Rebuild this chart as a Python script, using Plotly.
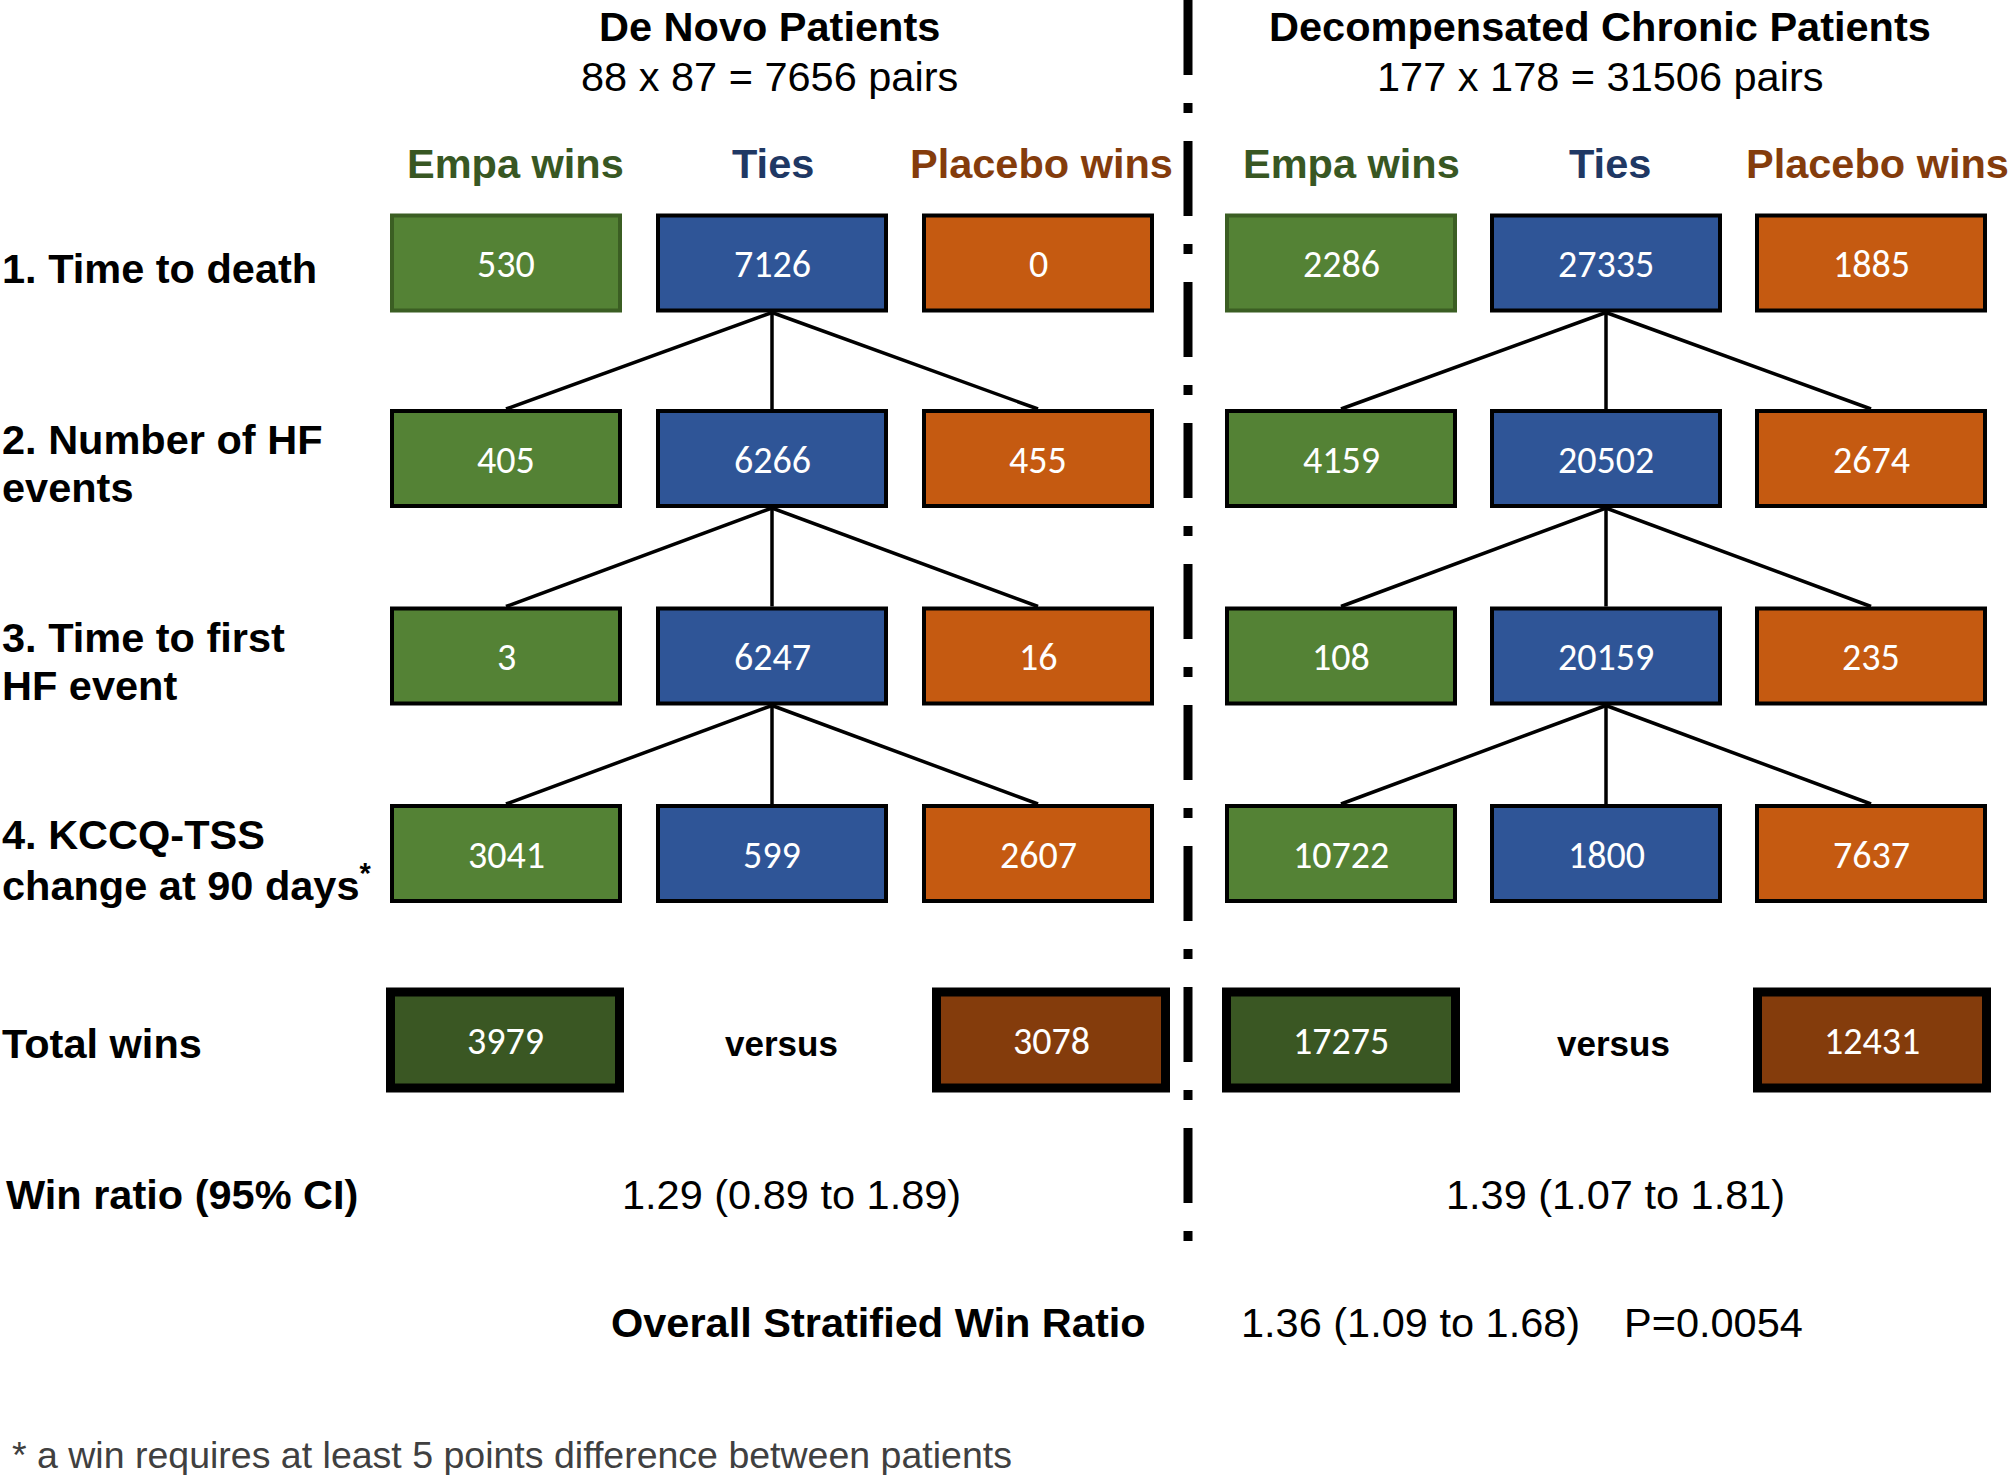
import plotly.graph_objects as go

# ---------------- data ----------------
panels = ["De Novo Patients", "Decompensated Chronic Patients"]
pair_labels = ["88 x 87 = 7656 pairs", "177 x 178 = 31506 pairs"]
outcome_groups = ["Empa wins", "Ties", "Placebo wins"]
outcome_labels = [
    ["1. Time to death"],
    ["2. Number of HF", "events"],
    ["3. Time to first", "HF event"],
    ["4. KCCQ-TSS", "change at 90 days<sup>*</sup>"],
]
empa_wins_denovo = [530, 405, 3, 3041]
ties_denovo = [7126, 6266, 6247, 599]
placebo_wins_denovo = [0, 455, 16, 2607]
empa_wins_chronic = [2286, 4159, 108, 10722]
ties_chronic = [27335, 20502, 20159, 1800]
placebo_wins_chronic = [1885, 2674, 235, 7637]
total_empa_wins = [3979, 17275]
total_placebo_wins = [3078, 12431]
win_ratio_text = ["1.29 (0.89 to 1.89)", "1.39 (1.07 to 1.81)"]
overall_label = "Overall Stratified Win Ratio"
overall_value = "1.36 (1.09 to 1.68)"
overall_p = "P=0.0054"
footnote = "* a win requires at least 5 points difference between patients"

# ---------------- layout / style ----------------
W, H = 2010, 1475
FONT = "Liberation Sans, Arial, Helvetica, sans-serif"
NUMFONT = "Carlito, Calibri, Lato, sans-serif"
FS = 41.5
fill = ["#548235", "#2F5597", "#C55A11"]
head_col = ["#385723", "#1F3864", "#843C0C"]
total_fill = ["#3A5723", "#843C0C"]

col_centers = [[506, 772, 1038], [1341, 1606, 1871]]
header_centers = [[515, 773, 1041], [1351, 1610, 1877]]
panel_centers = [769, 1600]
row_centers = [263, 458.5, 656, 853.5]
box_w, box_h = 232, 99
total_y = 1040
total_centers = [[505, 1051], [1341, 1872]]
total_w, total_h = 238, 105
versus_x = [781, 1613]
ratio_x = [791, 1615]

values = [
    [empa_wins_denovo, ties_denovo, placebo_wins_denovo],
    [empa_wins_chronic, ties_chronic, placebo_wins_chronic],
]

shapes = []
annotations = []


def text(x, y, s, size=FS, color="black", bold=False, family=FONT, xanchor="center"):
    annotations.append(dict(
        x=x, y=y, xref="x", yref="y", text=s, showarrow=False,
        xanchor=xanchor, yanchor="middle",
        font=dict(family=family, size=size, color=color,
                  weight="bold" if bold else "normal"),
    ))


for p in range(2):
    text(panel_centers[p], 26, panels[p], bold=True)
    text(panel_centers[p], 76, pair_labels[p])
    for c in range(3):
        text(header_centers[p][c], 163, outcome_groups[c], color=head_col[c], bold=True)
    for r in range(4):
        cy = row_centers[r]
        for c in range(3):
            cx = col_centers[p][c]
            border = "#3B5E23" if (r == 0 and c == 0) else "black"
            shapes.append(dict(
                type="rect", xref="x", yref="y",
                x0=cx - box_w / 2 + 2, x1=cx + box_w / 2 - 2,
                y0=cy - box_h / 2 + 2, y1=cy + box_h / 2 - 2,
                fillcolor=fill[c], line=dict(color=border, width=4), layer="above",
            ))
            text(cx, cy + 1, str(values[p][c][r]), size=38, color="white", family=NUMFONT)
        # connectors to the next row
        if r < 3:
            tx = col_centers[p][1]
            ny = row_centers[r + 1] - box_h / 2
            for c in range(3):
                shapes.append(dict(
                    type="line", xref="x", yref="y",
                    x0=tx, y0=cy + box_h / 2, x1=col_centers[p][c], y1=ny,
                    line=dict(color="black", width=3.5), layer="below",
                ))
    # totals
    for k, val in enumerate([total_empa_wins[p], total_placebo_wins[p]]):
        cx = total_centers[p][k]
        shapes.append(dict(
            type="rect", xref="x", yref="y",
            x0=cx - total_w / 2 + 4.5, x1=cx + total_w / 2 - 4.5,
            y0=total_y - total_h / 2 + 4.5, y1=total_y + total_h / 2 - 4.5,
            fillcolor=total_fill[k], line=dict(color="black", width=9), layer="above",
        ))
        text(cx, total_y + 1, str(val), size=38, color="white", family=NUMFONT)
    text(versus_x[p], 1043, "versus", bold=True, size=35)
    text(ratio_x[p], 1194, win_ratio_text[p])

# row labels
for r, lines in enumerate(outcome_labels):
    n = len(lines)
    for i, ln in enumerate(lines):
        y = row_centers[r] + 5 + (i - (n - 1) / 2) * 48
        text(0, y, ln, bold=True, xanchor="left")

text(0, 1043, "Total wins", bold=True, xanchor="left")
text(4, 1194, "Win ratio (95% CI)", bold=True, xanchor="left")
text(878, 1322, overall_label, bold=True)
text(1410, 1322, overall_value)
text(1713, 1322, overall_p)
text(10, 1455, footnote, size=37.5, color="#404040", xanchor="left")

# dash-dot separator between panels
shapes.append(dict(
    type="line", xref="x", yref="y", x0=1188, x1=1188, y0=0, y1=1241,
    line=dict(color="black", width=9, dash="75px,28px,10px,28px"),
))

fig = go.Figure()
fig.add_trace(go.Scatter(x=[0, W], y=[0, H], mode="markers",
                         marker=dict(opacity=0), hoverinfo="skip", showlegend=False))
fig.update_layout(
    width=W, height=H, margin=dict(l=0, r=0, t=0, b=0),
    paper_bgcolor="white", plot_bgcolor="white",
    xaxis=dict(range=[0, W], visible=False, fixedrange=True),
    yaxis=dict(range=[H, 0], visible=False, fixedrange=True),
    shapes=shapes, annotations=annotations, showlegend=False,
)
fig.write_html(
    "out.html",
    config={"displayModeBar": False},
    post_script="document.body.style.margin='0px';document.body.style.overflow='hidden';",
)
